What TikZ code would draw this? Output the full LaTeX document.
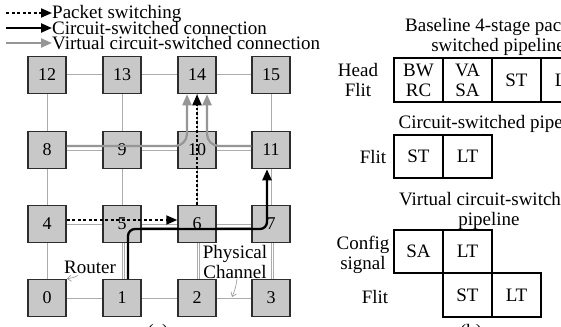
\documentclass[tikz,border=0pt]{standalone}
\usepackage{fontspec}
\setmainfont{Liberation Serif}
\usetikzlibrary{arrows.meta}
\definecolor{boxfill}{RGB}{200,200,200}
\definecolor{chan}{RGB}{172,172,172}
\definecolor{vc}{RGB}{150,150,150}
\definecolor{edgec}{RGB}{45,45,45}
\begin{document}
\begin{tikzpicture}[x=1pt,y=-1pt,
  router/.style={draw=edgec, line width=1.5pt, fill=boxfill, minimum width=38pt, minimum height=37pt, inner sep=0pt, font=\fontsize{18}{18}\selectfont},
  chanl/.style={draw=chan, line width=1pt},
  stagebox/.style={draw=black, line width=1.1pt, minimum width=49pt, minimum height=44pt, inner sep=0pt, align=center, font=\fontsize{19}{20}\selectfont},
  lbl/.style={inner sep=0pt, align=center, font=\fontsize{19}{20}\selectfont},
  tipA/.style={-{Triangle[length=11pt,width=9pt]}},
  pkt/.style={black, line width=2pt, dash pattern=on 3pt off 2.5pt, tipA},
  csw/.style={black, line width=2.3pt, tipA},
  vcs/.style={vc, line width=2.2pt, tipA},
  note/.style={draw=vc, line width=0.6pt, -{Straight Barb[length=4pt,width=6pt]}},
]
\clip (0,0) rectangle (561,326);
\fill[white] (0,0) rectangle (561,326);

% routers
\node[router] (r0)  at (47,298)  {0};
\node[router] (r1)  at (122,298) {1};
\node[router] (r2)  at (197,298) {2};
\node[router] (r3)  at (271,298) {3};
\node[router] (r4)  at (47,224)  {4};
\node[router] (r5)  at (122,224) {5};
\node[router] (r6)  at (197,224) {6};
\node[router] (r7)  at (271,224) {7};
\node[router] (r8)  at (47,150)  {8};
\node[router] (r9)  at (122,150) {9};
\node[router] (r10) at (197,150) {10};
\node[router] (r11) at (271,150) {11};
\node[router] (r12) at (47,75)   {12};
\node[router] (r13) at (122,75)  {13};
\node[router] (r14) at (197,75)  {14};
\node[router] (r15) at (271,75)  {15};

% physical channels
\foreach \a/\b in {r0/r1,r1/r2,r2/r3,r4/r5,r5/r6,r6/r7,r8/r9,r9/r10,r10/r11,r12/r13,r13/r14,r14/r15,
  r0/r4,r4/r8,r8/r12,r1/r5,r5/r9,r9/r13,r2/r6,r6/r10,r10/r14,r3/r7,r7/r11,r11/r15}
  \draw[chanl] (\a) -- (\b);
\foreach \a/\b in {r5/r6,r6/r7}
  \draw[chanl] ([yshift=-3pt]\a.east) -- ([yshift=-3pt]\b.west);
\foreach \a/\b in {r1/r5,r2/r6,r3/r7}
  \draw[chanl] ([xshift=2.5pt]\a.north) -- ([xshift=2.5pt]\b.south);

% virtual circuit-switched connections
\draw[vcs, rounded corners=12pt] ([yshift=4pt]r8.east) -| ([xshift=-10pt]r14.south);
\draw[vcs, rounded corners=12pt] ([yshift=4pt]r11.west) -| ([xshift=10pt]r14.south);

% packet switching
\draw[pkt] ([yshift=4pt]r4.east) -- ([yshift=4pt]r6.west);
\draw[pkt, dash pattern=on 2.5pt off 2pt] (r6.north) -- (r14.south);

% circuit-switched connection
\draw[csw, rounded corners=7pt] ([xshift=6pt]r1.north) |- ([xshift=-4pt,yshift=-5pt]r7.center) -- ([xshift=-4pt]r11.south);

% annotations
\node[lbl] (router) at (90,267) {Router};
\draw[note] (router.south west) ++(14,2) coordinate (rt) (rt) to[bend left=10] (r0.north east);
\node[lbl] (phys) at (235,262) {Physical\\Channel};
\coordinate (pc) at (232,297);
\draw[note] ([xshift=2pt]phys.south) to[bend left=8] (pc);

% legend
\coordinate (la1) at (6,13);  \coordinate (lb1) at (52,13);
\coordinate (la2) at (6,28);  \coordinate (lb2) at (52,28);
\coordinate (la3) at (6,43);  \coordinate (lb3) at (52,43);
\draw[pkt] (la1) -- (lb1);
\draw[csw] (la2) -- (lb2);
\draw[vcs] (la3) -- (lb3);
\node[lbl, anchor=base west] (t1) at (52,19) {Packet switching};
\node[lbl, anchor=base west] (t2) at (52,35) {Circuit-switched connection};
\node[lbl, anchor=base west] (t3) at (52,50) {Virtual circuit-switched connection};

% (b) pipelines
\node[lbl] (h1) at (498,37) {Baseline 4-stage packet-\\switched pipeline};
\node[stagebox] (a1) at (418.5,80) {BW\\RC};
\node[stagebox] (a2) at (467.5,80) {VA\\SA};
\node[stagebox] (a3) at (516.5,80) {ST};
\node[stagebox] (a4) at (565.5,80) {LT};
\node[lbl] (la) at (358,80) {Head\\Flit};

\node[lbl, anchor=base] (h2) at (495,128) {Circuit-switched pipeline};
\node[stagebox, minimum height=43pt] (b1) at (418.5,156.5) {ST};
\node[stagebox, minimum height=43pt] (b2) at (467.5,156.5) {LT};
\node[lbl] (lb) at (373,157) {Flit};

\node[lbl] (h3) at (489,211) {Virtual circuit-switched\\pipeline};
\node[stagebox, minimum height=43pt] (c1) at (418.5,251.5) {SA};
\node[stagebox, minimum height=43pt] (c2) at (467.5,251.5) {LT};
\node[stagebox, minimum height=44pt] (c3) at (467.5,295) {ST};
\node[stagebox, minimum height=44pt] (c4) at (516.5,295) {LT};
\node[lbl] (lc) at (363,255) {Config\\signal};
\node[lbl] (ld) at (375,297) {Flit};

% captions (cut off at the bottom edge)
\node[lbl, anchor=base] (capa) at (158,337) {(a)};
\node[lbl, anchor=base] (capb) at (471,337) {(b)};
\end{tikzpicture}
\end{document}
